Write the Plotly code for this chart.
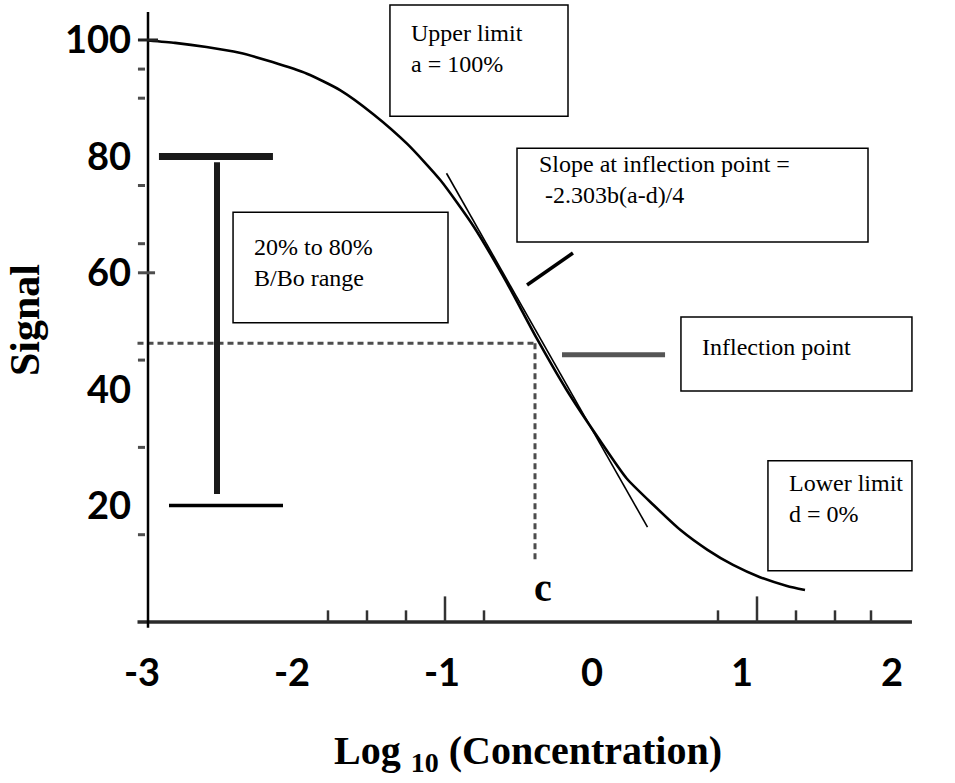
import plotly.graph_objects as go

# Four-parameter logistic standard curve: signal vs log10 concentration
log_conc = [-2.96, -2.78, -2.57, -2.35, -2.13, -1.90, -1.68, -1.46, -1.23, -1.01,
            -0.79, -0.57, -0.37, -0.17, 0.05, 0.23, 0.41, 0.59, 0.77, 0.94,
            1.12, 1.30, 1.42]
signal = [99.9, 99.5, 98.8, 97.8, 96.2, 94.2, 91.4, 87.3, 82.1, 75.9,
          68.0, 58.4, 48.8, 39.9, 31.3, 24.7, 20.1, 15.8, 12.4, 9.8,
          7.7, 6.2, 5.5]

# Tangent drawn through the inflection point
tangent_x = [-0.97, 0.37]
tangent_y = [77.1, 16.3]

# Inflection point (c on the x axis)
inflection_x = -0.38
inflection_y = 47.9

# Working range of the assay (B/Bo)
range_low = 20
range_high = 80

x_tick_vals = [-3, -2, -1, 0, 1, 2]
x_tick_text = ["-3", "-2", "-1", "0", "1", "2"]
y_tick_vals = [20, 40, 60, 80, 100]
y_tick_text = ["20", "40", "60", "80", "100"]

# small marks along the axes
x_marks_short = [-1.76, -1.50, -1.24, -0.72, 0.84, 1.36, 1.62, 1.86]
x_marks_tall = [-0.98, 1.10]
y_marks_short = [95, 90, 75, 65, 45, 30, 15]

X_RANGE = [-3.0533, 2.2]
Y_RANGE = [-3.093, 106.87]
X_LEFT = -3.03
X_AXIS_END = 2.133
Y_AXIS_X = -2.96

BLACK = "#000000"
GREY = "#4d4d4d"
SERIF = "Liberation Serif"
SANS = "Lato"

fig = go.Figure()

# dashed guides to the inflection point
fig.add_trace(go.Scatter(
    x=[X_LEFT, inflection_x], y=[inflection_y, inflection_y],
    mode="lines", line=dict(color=GREY, width=3, dash="6px,4px"),
    hoverinfo="skip", showlegend=False))
fig.add_trace(go.Scatter(
    x=[inflection_x, inflection_x], y=[inflection_y, 10.6],
    mode="lines", line=dict(color=GREY, width=3, dash="6px,4px"),
    hoverinfo="skip", showlegend=False))

# tangent line
fig.add_trace(go.Scatter(
    x=tangent_x, y=tangent_y, mode="lines",
    line=dict(color=BLACK, width=1.6),
    hoverinfo="skip", showlegend=False))

# the sigmoid curve
fig.add_trace(go.Scatter(
    x=log_conc, y=signal, mode="lines",
    line=dict(color=BLACK, width=2.6, shape="spline", smoothing=0.6),
    showlegend=False))

# 20% - 80% range bracket
fig.add_trace(go.Scatter(
    x=[-2.887, -2.127], y=[range_high, range_high], mode="lines",
    line=dict(color="#1a1a1a", width=7), hoverinfo="skip", showlegend=False))
fig.add_trace(go.Scatter(
    x=[-2.5, -2.5], y=[range_high - 1, range_low + 2], mode="lines",
    line=dict(color="#1a1a1a", width=6), hoverinfo="skip", showlegend=False))
fig.add_trace(go.Scatter(
    x=[-2.82, -2.06], y=[range_low, range_low], mode="lines",
    line=dict(color=BLACK, width=3.5), hoverinfo="skip", showlegend=False))

shapes = []

# axis lines
shapes.append(dict(type="line", xref="x", yref="y", x0=X_LEFT, x1=X_AXIS_END,
                   y0=0, y1=0, line=dict(color="#2b2b2b", width=3.5)))
shapes.append(dict(type="line", xref="x", yref="y", x0=Y_AXIS_X, x1=Y_AXIS_X,
                   y0=-1.0, y1=104.8, line=dict(color=BLACK, width=2.5)))

# marks on the x axis
for xv in x_marks_short:
    shapes.append(dict(type="line", xref="x", yref="y", x0=xv, x1=xv,
                       y0=0, y1=2.0, line=dict(color="#333333", width=2.5)))
for xv in x_marks_tall:
    shapes.append(dict(type="line", xref="x", yref="y", x0=xv, x1=xv,
                       y0=0, y1=4.4, line=dict(color="#333333", width=2.5)))

# marks on the y axis
for yv in y_marks_short:
    shapes.append(dict(type="line", xref="x", yref="y", x0=-3.027, x1=-2.98,
                       y0=yv, y1=yv, line=dict(color=GREY, width=3)))
shapes.append(dict(type="line", xref="x", yref="y", x0=-3.027, x1=-2.893,
                   y0=100, y1=100, line=dict(color="#222222", width=3)))
shapes.append(dict(type="line", xref="x", yref="y", x0=-3.027, x1=-2.913,
                   y0=60, y1=60, line=dict(color=GREY, width=3)))

# pointers
shapes.append(dict(type="line", xref="x", yref="y", x0=-0.433, y0=57.9,
                   x1=-0.127, y1=63.4, line=dict(color=BLACK, width=3.5)))
shapes.append(dict(type="line", xref="x", yref="y", x0=-0.2, y0=45.9,
                   x1=0.487, y1=45.9, line=dict(color="#555555", width=5)))

# text boxes: (x0, x1, y0, y1)
boxes = [
    (-1.347, -0.16, 86.9, 106.0),
    (-0.50, 1.84, 65.3, 81.4),
    (-2.393, -0.96, 51.4, 70.4),
    (0.593, 2.133, 39.7, 52.4),
    (1.173, 2.133, 8.8, 27.7),
]
for x0, x1, y0, y1 in boxes:
    shapes.append(dict(type="rect", xref="x", yref="y", x0=x0, x1=x1,
                       y0=y0, y1=y1, line=dict(color=BLACK, width=1.5),
                       fillcolor="rgba(0,0,0,0)"))

box_font = dict(family=SERIF, size=24, color=BLACK)
box_texts = [
    (-1.22, 98.6, ["Upper limit", "a = 100%"]),
    (-0.367, 76.1, ["Slope at inflection point =", " -2.303b(a-d)/4"]),
    (-2.267, 61.8, ["20% to 80%", "B/Bo range"]),
    (0.72, 47.3, ["Inflection point"]),
    (1.30, 21.3, ["Lower limit", "d = 0%"]),
]
annotations = []
for xa, ya, lines in box_texts:
    annotations.append(dict(
        x=xa, y=ya, xref="x", yref="y", text="<br>".join(lines),
        showarrow=False, xanchor="left", yanchor="middle", align="left",
        font=box_font))

annotations.append(dict(
    x=inflection_x + 0.053, y=6.0, xref="x", yref="y", text="c",
    showarrow=False, xanchor="center", yanchor="middle",
    font=dict(family=SERIF, size=40, color=BLACK, weight="bold")))

fig.update_layout(
    width=955, height=783,
    margin=dict(l=134, r=33, t=0, b=143, autoexpand=False),
    paper_bgcolor="white", plot_bgcolor="white",
    showlegend=False,
    shapes=shapes,
    annotations=annotations,
    xaxis=dict(
        range=X_RANGE, showgrid=False, zeroline=False, showline=False,
        ticks="", tickmode="array", tickvals=x_tick_vals, ticktext=x_tick_text,
        ticklabelstandoff=7, automargin=False,
        tickfont=dict(family=SANS, size=38, color=BLACK, weight="bold"),
        title=dict(text="Log <sub>10</sub> (Concentration)", standoff=42,
                   font=dict(family=SERIF, size=40, color=BLACK, weight="bold")),
    ),
    yaxis=dict(
        range=Y_RANGE, showgrid=False, zeroline=False, showline=False,
        ticks="", tickmode="array", tickvals=y_tick_vals, ticktext=y_tick_text,
        ticklabelstandoff=2, automargin=False,
        tickfont=dict(family=SANS, size=38, color=BLACK, weight="bold"),
        title=dict(text="Signal", standoff=12,
                   font=dict(family=SERIF, size=42, color=BLACK, weight="bold")),
    ),
)

fig.write_html("out.html")
